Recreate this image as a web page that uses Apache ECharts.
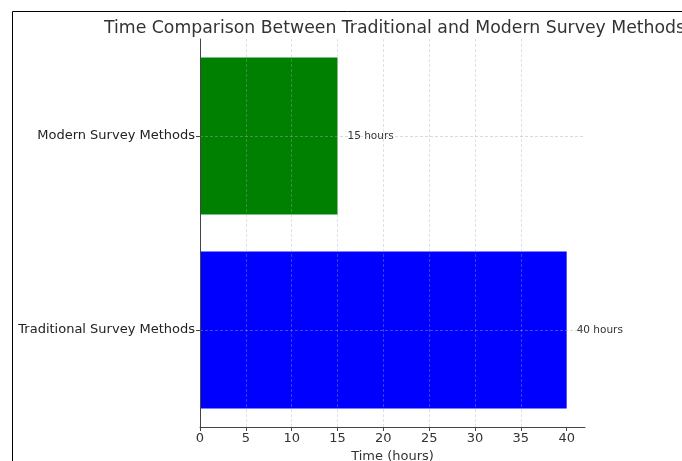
<!DOCTYPE html>
<html>
<head>
<meta charset="utf-8">
<script src="https://cdn.jsdelivr.net/npm/echarts@6/dist/echarts.min.js"></script>
<style>html,body{margin:0;padding:0;background:#fff;}#c{width:682px;height:461px;}</style>
</head>
<body>
<div id="c"></div>
<script>
const categories = ['Traditional Survey Methods', 'Modern Survey Methods'];
const hours = [40, 15];
const barColors = ['#0000ff', '#008000'];
const xTicks = [0, 5, 10, 15, 20, 25, 30, 35, 40];
const titleText = 'Time Comparison Between Traditional and Modern Survey Methods';
const xName = 'Time (hours)';

const font = 'DejaVu Sans';
const chart = echarts.init(document.getElementById('c'), null, {renderer: 'canvas'});
chart.setOption({
  animation: false,
  backgroundColor: '#fff',
  textStyle: {fontFamily: font},
  title: {
    text: titleText,
    left: 99, top: 15,
    textStyle: {fontFamily: font, fontSize: 17.3, fontWeight: 'normal', color: '#333'}
  },
  graphic: [{
    type: 'rect', silent: true, z: 100,
    shape: {x: 12.5, y: 11.5, width: 700, height: 500},
    style: {fill: 'none', stroke: '#000', lineWidth: 1}
  }],
  grid: {left: 200, right: 97, top: 39, bottom: 34, containLabel: false, outerBoundsMode: 'none'},
  xAxis: {
    type: 'value', min: 0, max: 42, interval: 5, z: 10,
    name: xName, nameLocation: 'middle', nameGap: 18,
    nameTextStyle: {fontFamily: font, fontSize: 13, color: '#333'},
    axisLine: {show: true, lineStyle: {color: '#444', width: 1}},
    axisTick: {show: true, length: 4, lineStyle: {color: '#444'}, customValues: xTicks},
    axisLabel: {fontFamily: font, fontSize: 13, color: '#333', margin: 5, customValues: xTicks},
    splitLine: {show: true, showMaxLine: false, showMinLine: false, lineStyle: {color: 'rgba(170,170,170,0.45)', type: [3, 2], width: 0.8}}
  },
  yAxis: {
    type: 'category', data: categories, z: 10,
    axisLine: {show: true, lineStyle: {color: '#444', width: 1}},
    axisTick: {show: true, alignWithLabel: true, length: 4, lineStyle: {color: '#444'}},
    axisLabel: {fontFamily: font, fontSize: 13, color: '#222', margin: 5},
    splitLine: {show: false}
  },
  series: [{
    type: 'bar',
    data: hours.map((v, i) => ({value: v, itemStyle: {color: barColors[i]}})),
    barWidth: '81%',
    label: {show: true, position: 'right', distance: 10, formatter: '{c} hours', fontFamily: font, fontSize: 10.5, color: '#333'},
    markLine: {
      silent: true, symbol: 'none', z: 5,
      label: {show: false},
      lineStyle: {color: 'rgba(170,170,170,0.55)', type: [3, 2], width: 0.8},
      data: categories.map(c => ({yAxis: c}))
    }
  }]
});
</script>
</body>
</html>
